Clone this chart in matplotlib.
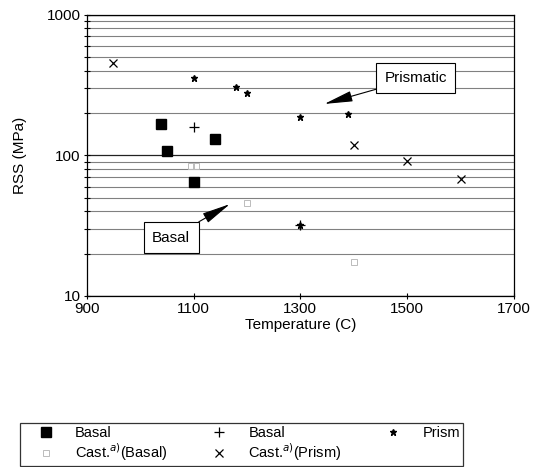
import numpy as np
import matplotlib
matplotlib.use("Agg")
import matplotlib.pyplot as plt
from matplotlib.ticker import LogLocator, NullFormatter, FixedLocator

plt.rcParams['font.family'] = ['Liberation Sans', 'DejaVu Sans']

# data
basal_T = [1040, 1050, 1100, 1140]
basal_rss = [168, 107, 65, 130]
basal2_T = [1100, 1300]
basal2_rss = [160, 32]
prism_T = [1100, 1180, 1200, 1300, 1390, 1300]
prism_rss = [355, 305, 277, 186, 197, 32]
cast_basal_T = [1095, 1105, 1200, 1400]
cast_basal_rss = [84, 84, 46, 17.5]
cast_prism_T = [950, 1400, 1500, 1600]
cast_prism_rss = [450, 118, 91, 68]

xticks = [900, 1100, 1300, 1500, 1700]

fig = plt.figure(figsize=(5.34, 4.67), dpi=100)
ax = fig.add_axes([0.1624, 0.3662, 0.8001, 0.6023])

ax.set_yscale('log')
ax.set_xlim(900, 1700)
ax.set_ylim(10, 1000)

ax.yaxis.set_major_locator(FixedLocator([10, 100, 1000]))
ax.yaxis.set_minor_locator(LogLocator(base=10, subs=np.arange(2, 10)))
ax.yaxis.set_minor_formatter(NullFormatter())
ax.set_yticklabels(['10', '100', '1000'])
ax.set_xticks(xticks)
ax.set_xticklabels([str(t) for t in xticks])

ax.grid(True, which='major', axis='y', color='#222222', lw=0.9)
ax.grid(True, which='minor', axis='y', color='#808080', lw=0.8)
ax.tick_params(axis='both', which='both', direction='inout', length=5, width=0.8,
               labelsize=11)
ax.tick_params(axis='x', pad=2)
ax.tick_params(axis='y', pad=2)
ax.tick_params(axis='y', which='minor', length=4)
for s in ax.spines.values():
    s.set_linewidth(0.9)

ax.plot(basal_T, basal_rss, ls='none', marker='s', ms=7, color='black', label='Basal')
ax.plot(cast_basal_T, cast_basal_rss, ls='none', marker='s', ms=5, mfc='none',
        mec='#bbbbbb', mew=0.7, label='Cast.$^{a)}$(Basal)')
ax.plot(basal2_T, basal2_rss, ls='none', marker='+', ms=7, color='black', mew=0.9,
        label='Basal')
ax.plot(cast_prism_T, cast_prism_rss, ls='none', marker='x', ms=6, color='black',
        mew=0.9, label='Cast.$^{a)}$(Prism)')
ax.plot(prism_T, prism_rss, ls='none', marker='*', ms=5, color='black', label='Prism')

arrow = dict(arrowstyle='-|>,head_length=1.6,head_width=0.3', fc='black',
             ec='black', lw=0.8, shrinkA=0, shrinkB=0)
ax.annotate('Prismatic', xy=(1345, 232), xytext=(1516, 355),
            ha='center', va='center', fontsize=11,
            bbox=dict(boxstyle='square,pad=0.55', fc='white', ec='black', lw=0.8),
            arrowprops=arrow)
ax.annotate('Basal', xy=(1168, 45), xytext=(1058, 26),
            ha='center', va='center', fontsize=11,
            bbox=dict(boxstyle='square,pad=0.55', fc='white', ec='black', lw=0.8),
            arrowprops=arrow)

ax.set_xlabel('Temperature (C)', fontsize=11, labelpad=1)
ax.set_ylabel('RSS (MPa)', fontsize=11, labelpad=14)

leg = fig.legend(loc='lower left', bbox_to_anchor=(0.037, 0.002, 0.83, 0.085),
                 mode='expand', ncol=3, fontsize=10.5, frameon=True, fancybox=False,
                 edgecolor='black', handlelength=3.2, handletextpad=0.4,
                 borderpad=0.2, labelspacing=0.1, borderaxespad=0)
leg.get_frame().set_linewidth(0.9)

fig.savefig('out.png', dpi=100)
